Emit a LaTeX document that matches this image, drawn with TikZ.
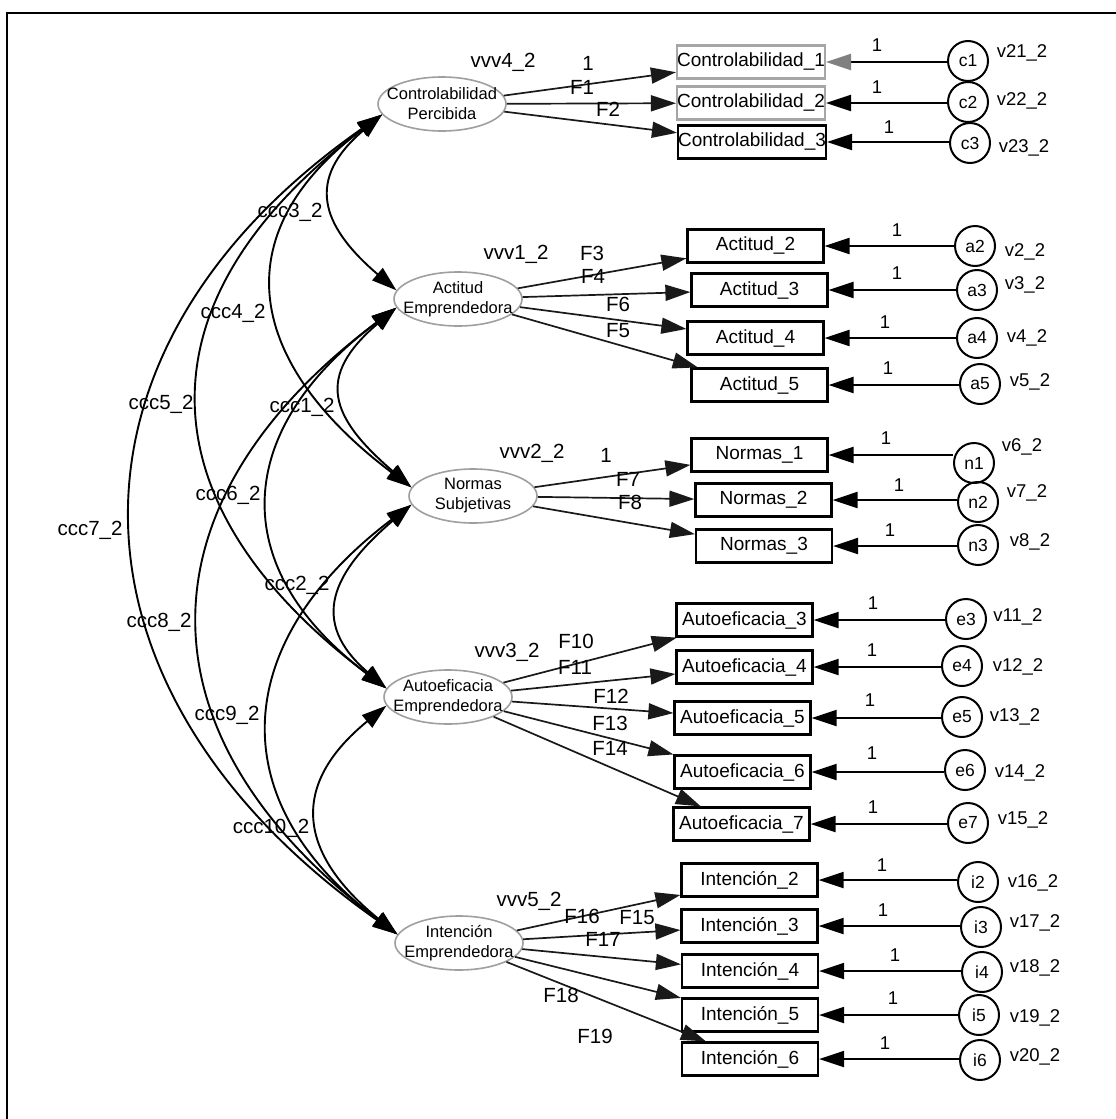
\documentclass[tikz,border=0pt]{standalone}
\usepackage{fontspec}
\setmainfont{Liberation Sans}
\usetikzlibrary{arrows.meta,shapes.geometric}
\newcommand\FSbox{\fontsize{19}{22}\selectfont}
\newcommand\FSlat{\fontsize{16.5}{20}\selectfont}
\newcommand\FSlab{\fontsize{20.5}{24}\selectfont}
\newcommand\FSv{\fontsize{18.5}{22}\selectfont}
\newcommand\FScirc{\fontsize{17.5}{20}\selectfont}
\tikzset{
  lat/.style={ellipse, draw=gray!75, line width=1.6pt, minimum width=128pt, minimum height=54pt, inner sep=0pt},
  latlab/.style={font=\FSlat, align=center, inner sep=0pt},
  obs/.style={rectangle, draw=black, line width=2.2pt, minimum width=136pt, minimum height=33pt, inner sep=0pt, font=\FSbox},
  err/.style={circle, draw=black, line width=2pt, minimum size=40pt, inner sep=0pt, font=\FScirc},
  lab/.style={font=\FSlab, inner sep=0pt},
  vlab/.style={font=\FSv, inner sep=0pt},
  load/.style={->, line width=1.7pt, draw=black!90},
  errarr/.style={->, line width=2.1pt},
  cov/.style={<->, line width=1.9pt},
  >={Triangle[length=25pt,width=16pt]}
}
\begin{document}
\begin{tikzpicture}[x=1pt,y=-1pt]
\useasboundingbox (0,0) rectangle (1116,1119);
\fill[white] (0,0) rectangle (1116,1119);
\draw[line width=1.8pt] (7,1119) -- (7,13) -- (1116,13);

% latent variables
\node[lat, label={[latlab]center:Controlabilidad\\Percibida}] (CP) at (442,104) {};
\node[lat, label={[latlab]center:Actitud\\Emprendedora}] (AE) at (458,299) {};
\node[lat, label={[latlab]center:Normas\\Subjetivas}] (NS) at (473,496) {};
\node[lat, label={[latlab]center:Autoeficacia\\Emprendedora}] (AU) at (448,697) {};
\node[lat, label={[latlab]center:Intención\\Emprendedora}] (IE) at (459,943) {};

% observed variables
\node[obs, draw=gray!70] (C1) at (751,62) {Controlabilidad\_1};
\node[obs, draw=gray!70] (C2) at (751,103) {Controlabilidad\_2};
\node[obs] (C3) at (752,142) {Controlabilidad\_3};
\node[obs] (A2) at (755.5,246) {Actitud\_2};
\node[obs] (A3) at (759.5,290) {Actitud\_3};
\node[obs] (A4) at (755.5,338) {Actitud\_4};
\node[obs] (A5) at (759.5,385) {Actitud\_5};
\node[obs] (N1) at (759.5,455) {Normas\_1};
\node[obs] (N2) at (763.5,500) {Normas\_2};
\node[obs] (N3) at (764,546) {Normas\_3};
\node[obs] (E3) at (744.5,620) {Autoeficacia\_3};
\node[obs] (E4) at (744.5,667) {Autoeficacia\_4};
\node[obs] (E5) at (742.5,718) {Autoeficacia\_5};
\node[obs] (E6) at (742.5,772) {Autoeficacia\_6};
\node[obs] (E7) at (741.5,824) {Autoeficacia\_7};
\node[obs] (I2) at (749.5,880) {Intención\_2};
\node[obs] (I3) at (749.5,926) {Intención\_3};
\node[obs] (I4) at (750,971) {Intención\_4};
\node[obs] (I5) at (750,1015) {Intención\_5};
\node[obs] (I6) at (750,1059) {Intención\_6};

% error terms
\node[err] (c1) at (968,61) {c1};
\node[err] (c2) at (968,102) {c2};
\node[err] (c3) at (970,143) {c3};
\node[err] (a2) at (975,246) {a2};
\node[err] (a3) at (977,290) {a3};
\node[err] (a4) at (977,338) {a4};
\node[err] (a5) at (980,384) {a5};
\node[err] (n1) at (974,463) {n1};
\node[err] (n2) at (978,502) {n2};
\node[err] (n3) at (978,545) {n3};
\node[err] (e3) at (966,619) {e3};
\node[err] (e4) at (962,666) {e4};
\node[err] (e5) at (962,717) {e5};
\node[err] (e6) at (965,770) {e6};
\node[err] (e7) at (968,823) {e7};
\node[err] (i2) at (978,882) {i2};
\node[err] (i3) at (981,927) {i3};
\node[err] (i4) at (982,972) {i4};
\node[err] (i5) at (979,1015) {i5};
\node[err] (i6) at (980,1060) {i6};

% error arrows (horizontal, at the level of the indicator box)
\draw[line width=2.1pt, -{Triangle[length=25pt,width=16pt,color=gray]}] (C1.east -| c1.west) -- (C1.east);
\foreach \e/\o in {c2/C2,c3/C3,a2/A2,a3/A3,a4/A4,a5/A5,n1/N1,n2/N2,n3/N3,e3/E3,e4/E4,e5/E5,e6/E6,e7/E7,i2/I2,i3/I3,i4/I4,i5/I5,i6/I6}
  \draw[errarr] (\o.east -| \e.west) -- (\o.east);

% loadings
\foreach \l/\o in {CP/C1,CP/C2,CP/C3,AE/A2,AE/A3,AE/A4,AE/A5,NS/N1,NS/N2,NS/N3,AU/E3,AU/E4,AU/E5,AU/E6,AU/E7,IE/I2,IE/I3,IE/I4,IE/I5,IE/I6}
  \draw[load] (\l) -- (\o);

% covariances
\draw[cov] (CP.190) .. controls (306,179) and (320,225) .. (AE.172);
\draw[cov] (CP.190) .. controls (220,236) and (249,365) .. (NS.172);
\draw[cov] (CP.190) .. controls (136,299) and (140,503) .. (AU.172);
\draw[cov] (CP.190) .. controls (40,354) and (55,694) .. (IE.172);
\draw[cov] (AE.188) .. controls (315,377) and (330,417) .. (NS.172);
\draw[cov] (AE.188) .. controls (234,429) and (224,566) .. (AU.172);
\draw[cov] (AE.188) .. controls (134,504) and (135,737) .. (IE.172);
\draw[cov] (NS.188) .. controls (333,572) and (308,621) .. (AU.172);
\draw[cov] (NS.188) .. controls (232,640) and (218,799) .. (IE.172);
\draw[cov] (AU.188) .. controls (288,786) and (299,854) .. (IE.172);

% covariance labels
\node[lab] (k3) at (290,212) {ccc3\_2};
\node[lab] (k4) at (233,313) {ccc4\_2};
\node[lab] (k5) at (161,404) {ccc5\_2};
\node[lab] (k1) at (302,407) {ccc1\_2};
\node[lab] (k6) at (228,495) {ccc6\_2};
\node[lab] (k7) at (90,530) {ccc7\_2};
\node[lab] (k2) at (297,585) {ccc2\_2};
\node[lab] (k8) at (159,622) {ccc8\_2};
\node[lab] (k9) at (227,715) {ccc9\_2};
\node[lab] (k10) at (271,828) {ccc10\_2};

% latent variance and loading labels
\node[lab] (w4) at (503,62) {vvv4\_2};
\node[lab] (p1) at (588,63) {1};
\node[lab] (f1) at (582,87) {F1};
\node[lab] (f2) at (608,109) {F2};
\node[lab] (w1) at (516,254) {vvv1\_2};
\node[lab] (f3) at (592,253) {F3};
\node[lab] (f4) at (593,276) {F4};
\node[lab] (f6) at (618,304) {F6};
\node[lab] (f5) at (618,331) {F5};
\node[lab] (w2) at (532,453) {vvv2\_2};
\node[lab] (p2) at (606,455) {1};
\node[lab] (f7) at (628,479) {F7};
\node[lab] (f8) at (630,502) {F8};
\node[lab] (w3) at (507,652) {vvv3\_2};
\node[lab] (f10) at (576,641) {F10};
\node[lab] (f11) at (575,667) {F11};
\node[lab] (f12) at (611,696) {F12};
\node[lab] (f13) at (610,723) {F13};
\node[lab] (f14) at (610,748) {F14};
\node[lab] (w5) at (529,901) {vvv5\_2};
\node[lab] (f16) at (582,916) {F16};
\node[lab] (f15) at (637,918) {F15};
\node[lab] (f17) at (603,939) {F17};
\node[lab] (f18) at (561,995) {F18};
\node[lab] (f19) at (595,1036) {F19};

% error path labels "1"
\foreach \n/\x/\y in {q1/877/45,q2/877/87,q3/889/127,q4/897/230,q5/897/273,q6/885/322,q7/888/368,q8/886/438,q9/899/485,q10/890/530,q11/873/603,q12/872/650,q13/870/700,q14/872/753,q15/873/807,q16/882/865,q17/883/910,q18/895/955,q19/893/998,q20/885/1043}
  \node[vlab] (\n) at (\x,\y) {1};

% error variance labels
\node[vlab] (v21) at (1022,53) {v21\_2};
\node[vlab] (v22) at (1022,101) {v22\_2};
\node[vlab] (v23) at (1024,148) {v23\_2};
\node[vlab] (v2) at (1025,252) {v2\_2};
\node[vlab] (v3) at (1025,285) {v3\_2};
\node[vlab] (v4) at (1027,338) {v4\_2};
\node[vlab] (v5) at (1030,382) {v5\_2};
\node[vlab] (v6) at (1022,447) {v6\_2};
\node[vlab] (v7) at (1027,493) {v7\_2};
\node[vlab] (v8) at (1030,542) {v8\_2};
\node[vlab] (v11) at (1018,617) {v11\_2};
\node[vlab] (v12) at (1018,667) {v12\_2};
\node[vlab] (v13) at (1015,717) {v13\_2};
\node[vlab] (v14) at (1020,773) {v14\_2};
\node[vlab] (v15) at (1023,820) {v15\_2};
\node[vlab] (v16) at (1033,883) {v16\_2};
\node[vlab] (v17) at (1035,923) {v17\_2};
\node[vlab] (v18) at (1035,968) {v18\_2};
\node[vlab] (v19) at (1035,1018) {v19\_2};
\node[vlab] (v20) at (1035,1057) {v20\_2};
\end{tikzpicture}
\end{document}
